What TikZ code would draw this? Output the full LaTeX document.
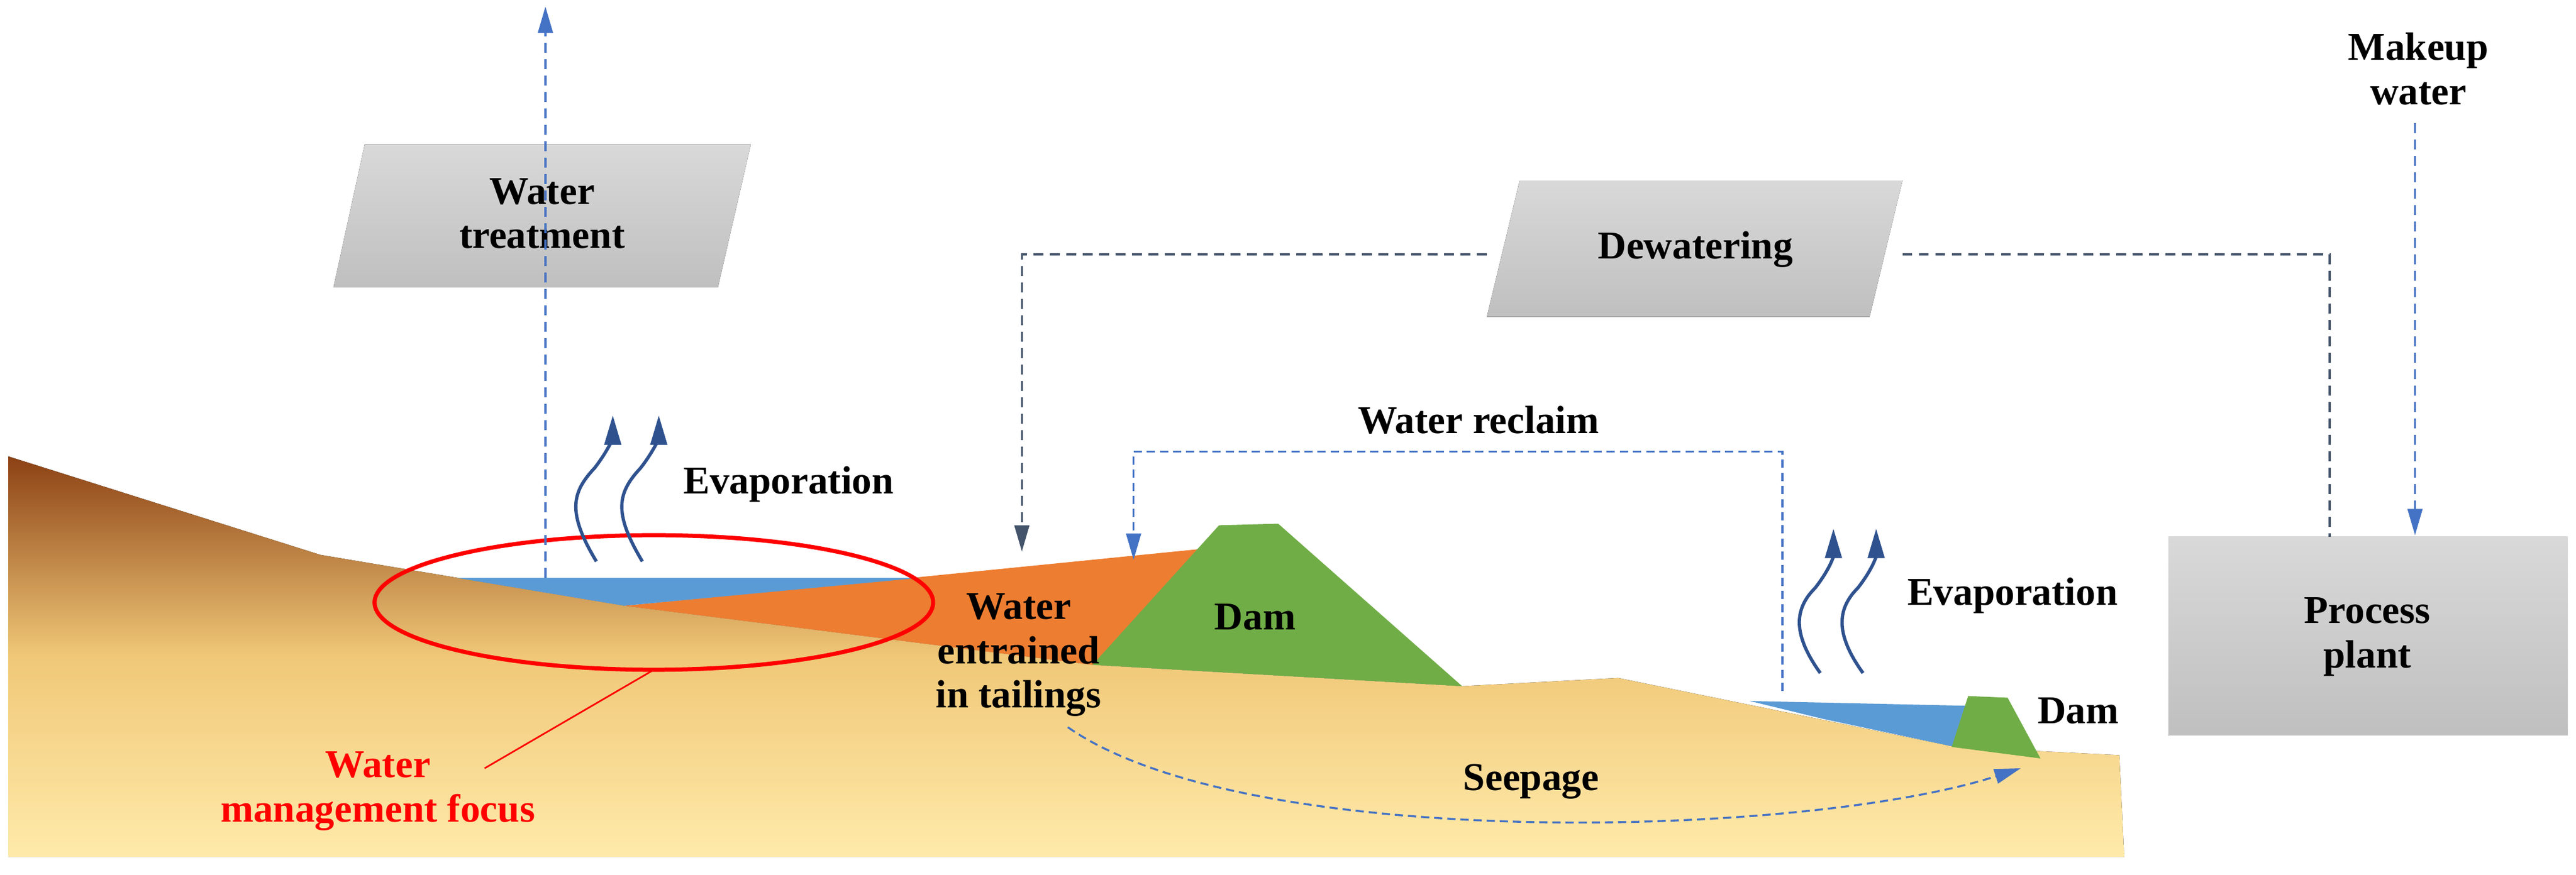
\documentclass[tikz,border=0pt]{standalone}
\usepackage{fontspec}
\setmainfont{Liberation Serif}
\usetikzlibrary{arrows.meta}
\definecolor{dblue}{RGB}{47,82,143}
\definecolor{lblue}{RGB}{68,114,196}
\definecolor{pond}{RGB}{91,155,213}
\definecolor{tail}{RGB}{237,125,49}
\definecolor{dam}{RGB}{112,173,71}
\definecolor{dgray}{RGB}{68,84,106}
\tikzset{
 lbl/.style={font=\fontsize{24}{27}\selectfont\bfseries, align=center, inner sep=0pt},
 box/.style={top color=gray!30, bottom color=gray!50, draw=none},
 dl/.style={lblue, line width=1.2pt, dash pattern=on 6pt off 4pt},
 tip/.style={-{Triangle[width=9pt,length=16pt]}},
 evap/.style={dblue, line width=2pt, -{Triangle[width=10pt,length=18pt]}}
}
\begin{document}
\begin{tikzpicture}[x=1pt,y=-1pt]
\useasboundingbox (0,0) rectangle (1568,533);
% ground
\fill[top color={rgb,255:red,140;green,65;blue,20}, bottom color={rgb,255:red,255;green,234;blue,170}, middle color={rgb,255:red,240;green,200;blue,120}]
 (5,278) -- (195,338) -- (380,369) -- (665,405) -- (890,418) -- (985,413) -- (1190,455) -- (1290,460) -- (1293,522) -- (5,522) -- cycle;
% tailings
\fill[tail] (380,369) -- (555,352) -- (735,334) -- (665,405) -- cycle;
\fill[pond] (278,352) -- (560,352) -- (380,369) -- cycle;
\fill[pond] (1065,427) -- (1200,430) -- (1190,455) -- (1110,438) -- cycle;
\fill[dam] (665,405) -- (742,320) -- (778,319) -- (890,418) -- cycle;
\fill[dam] (1188,455) -- (1198,424) -- (1222,425) -- (1242,462) -- cycle;
% red focus
\draw[red, line width=2.5pt] (398,367) ellipse [x radius=170, y radius=41];
\coordinate (fa) at (398,408);
\coordinate (fb) at (295,468);
\draw[red, line width=1pt] (fa) -- (fb);
\node[lbl, red] (foc) at (230,482) {Water\\management focus};
% boxes
\fill[box] (222,88) -- (457,88) -- (437,175) -- (203,175) -- cycle;
\node[lbl] (wt) at (330,130) {Water\\treatment};
\fill[box] (925,110) -- (1158,110) -- (1138,193) -- (905,193) -- cycle;
\node[lbl] (dw) at (1032,152) {Dewatering};
\fill[box] (1320,327) rectangle (1563,448);
\node[lbl] (pp) at (1441,388) {Process\\plant};
\node[lbl] (mw) at (1472,42) {Makeup\\water};
% connectors
\coordinate (t0) at (332,352);
\coordinate (t1) at (332,4);
\draw[dl, tip] (t0) -- (t1);
\coordinate (d1) at (905,155);
\coordinate (d2) at (622,336);
\draw[dgray, line width=1.2pt, dash pattern=on 6pt off 4pt, -{Triangle[width=9pt,length=16pt]}] (d1) -| (d2);
\coordinate (d3) at (1158,155);
\coordinate (d4) at (1418,327);
\draw[dgray, line width=1.2pt, dash pattern=on 6pt off 4pt] (d3) -| (d4);
\coordinate (r0) at (1085,421);
\coordinate (r1) at (1085,275);
\coordinate (r2) at (690,341);
\draw[dl, tip, dash pattern=on 5pt off 3pt] (r0) -- (r1) -| (r2);
\node[lbl] (wr) at (900,256) {Water reclaim};
\coordinate (m0) at (1470,75);
\coordinate (m1) at (1470,326);
\draw[dl, tip] (m0) -- (m1);
% evaporation
\foreach \dx in {0,28}{
 \draw[evap] (363+\dx,342) .. controls (345+\dx,312) and (348+\dx,300) .. (362+\dx,285) .. controls (372+\dx,272) and (373+\dx,265) .. (373+\dx,253);
}
\node[lbl] (ev1) at (480,295) {Evaporation};
\foreach \dx in {0,26}{
 \draw[evap] (1108+\dx,410) .. controls (1090+\dx,385) and (1093+\dx,370) .. (1105+\dx,358) .. controls (1115+\dx,345) and (1116+\dx,338) .. (1116+\dx,322);
}
\node[lbl] (ev2) at (1225,363) {Evaporation};
% labels
\node[lbl] (ent) at (620,399) {Water\\entrained\\in tailings};
\node[lbl] (dm) at (764,376) {Dam};
\node[lbl] (dm2) at (1265,433) {Dam};
\node[lbl] (sp) at (932,476) {Seepage};
\coordinate (s0) at (650,443);
\coordinate (s1) at (1230,468);
\draw[dl, tip, dash pattern=on 5pt off 3pt] (s0) .. controls (760,520) and (1100,510) .. (s1);
\end{tikzpicture}
\end{document}
